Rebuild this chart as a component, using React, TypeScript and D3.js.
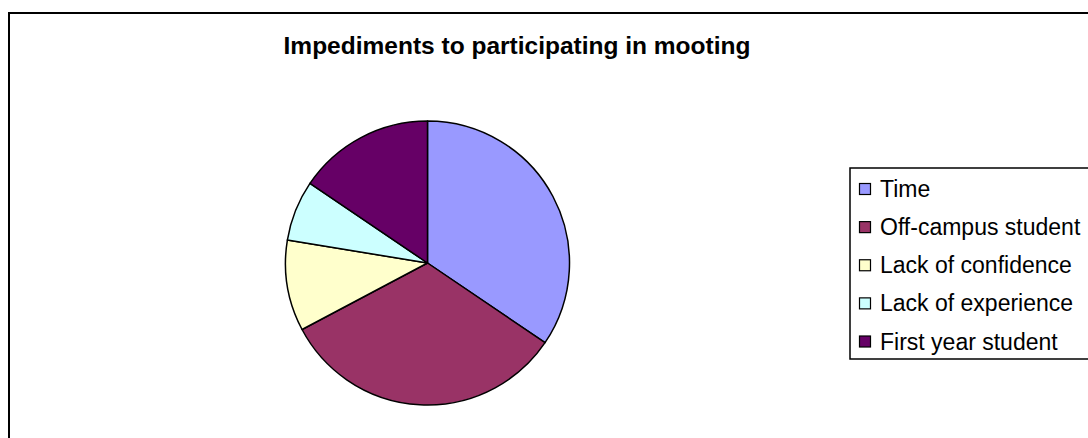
import React from "react";
import * as d3 from "d3";

const categories = ["Time", "Off-campus student", "Lack of confidence", "Lack of experience", "First year student"];
const values = [20, 19, 6, 4, 9];
const colors = ["#9999FF", "#993366", "#FFFFCC", "#CCFFFF", "#660066"];
const title = "Impediments to participating in mooting";

export default function App() {
  const W = 1088, H = 438;
  const cx = 427.5, cy = 263, r = 142;
  const pie = d3.pie<number>().sort(null).value((d) => d)(values);
  const arc = d3.arc<d3.PieArcDatum<number>>().innerRadius(0).outerRadius(r);
  const legendY = d3.scalePoint<string>().domain(categories).range([189, 341.5]);
  return (
    <svg width={W} height={H} style={{ position: "absolute", left: 0, top: 0 }} fontFamily="'Liberation Sans', Arial, sans-serif">
      <rect x={0} y={0} width={W} height={H} fill="#fff" />
      <rect x={9} y={13} width={W + 20} height={H + 20} fill="none" stroke="#000" strokeWidth={2} />
      <text x={517} y={53.5} textAnchor="middle" fontWeight="bold" fontSize={24.5}>{title}</text>
      <g transform={`translate(${cx},${cy})`}>
        {pie.map((p, i) => (
          <path key={i} d={arc(p) || ""} fill={colors[i]} stroke="#000" strokeWidth={1.5} strokeLinejoin="round" />
        ))}
      </g>
      <rect x={850} y={168} width={260} height={191} fill="#fff" stroke="#000" strokeWidth={1.5} />
      {categories.map((c, i) => {
        const y = legendY(c) as number;
        return (
          <g key={c}>
            <rect x={859.5} y={y - 5.5} width={11} height={11} fill={colors[i]} stroke="#000" strokeWidth={1.2} />
            <text x={880} y={y} dy="0.35em" fontSize={23}>{c}</text>
          </g>
        );
      })}
    </svg>
  );
}
